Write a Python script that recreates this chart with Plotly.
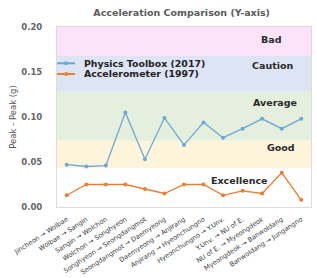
import plotly.graph_objects as go

categories = [
    "Jincheon → Wolbae", "Wolbae → Sangin", "Sangin → Wolchon", "Wolchon → Songhyeon",
    "Songhyeon → Seongdangmot", "Seongdangmot → Daemyeong", "Daemyeong → Anjirang",
    "Anjirang → Hyeonchungno", "Hyeonchungno → Y.Unv.", "Y.Unv. → NU of E.",
    "NU of E. → Myeongdeok", "Myeongdeok → Banwoldang", "Banwoldang → Jungangno",
]
physics_toolbox = [0.047, 0.045, 0.046, 0.105, 0.053, 0.099, 0.069, 0.094, 0.077, 0.087, 0.098, 0.087, 0.098]
accelerometer = [0.013, 0.025, 0.025, 0.025, 0.020, 0.015, 0.025, 0.025, 0.013, 0.018, 0.015, 0.038, 0.008]
series_names = ["Physics Toolbox (2017)", "Accelerometer (1997)"]
series_colors = ["#6fa8d6", "#ed7d31"]

band_names = ["Excellence", "Good", "Average", "Caution", "Bad"]
band_edges = [0.0, 0.043, 0.074, 0.128, 0.168, 0.20]
band_colors = ["#ffffff", "#fdf4dc", "#e4f0dd", "#dde4f3", "#fbe4f8"]
band_label_y = [0.029, 0.066, 0.116, 0.1567, 0.1856]
band_label_x = [0.72, 0.944, 0.951, 0.937, 0.89]

FONT = "DejaVu Sans"

fig = go.Figure()
for i in range(len(band_names)):
    fig.add_shape(type="rect", xref="paper", yref="y", x0=0, x1=1,
                  y0=band_edges[i], y1=band_edges[i + 1],
                  fillcolor=band_colors[i], line_width=0, layer="below")
    fig.add_annotation(xref="paper", yref="y", x=band_label_x[i], y=band_label_y[i],
                       text="<b>" + band_names[i] + "</b>", showarrow=False,
                       xanchor="right" if i != 0 else "center", yanchor="middle",
                       font=dict(family=FONT, size=9.5, color="#2a2a2a"))

for vals, name, col in zip([physics_toolbox, accelerometer], series_names, series_colors):
    fig.add_trace(go.Scatter(x=categories, y=vals, mode="lines+markers", name=name,
                             line=dict(color=col, width=1.3),
                             marker=dict(size=4, color=col), showlegend=False))

# legend drawn manually (compact rows like the reference)
legend_y = [0.1597, 0.1478]
for ly, name, col in zip(legend_y, series_names, series_colors):
    fig.add_shape(type="line", xref="paper", yref="y", x0=0.0, x1=0.071, y0=ly, y1=ly,
                  line=dict(color=col, width=2))
    fig.add_shape(type="circle", xref="paper", yref="y", x0=0.028, x1=0.044,
                  y0=ly - 0.0022, y1=ly + 0.0022, fillcolor=col, line_width=0)
    fig.add_annotation(xref="paper", yref="y", x=0.098, y=ly, text="<b>" + name + "</b>",
                       showarrow=False, xanchor="left", yanchor="middle",
                       font=dict(family=FONT, size=9.4, color="#222222"))

fig.update_layout(
    width=317, height=278,
    margin=dict(l=57, r=6, t=27, b=71),
    paper_bgcolor="white", plot_bgcolor="white",
    title=dict(text="<b>Acceleration Comparison (Y-axis)</b>", x=0.573, xanchor="center",
               y=0.953, yanchor="middle",
               font=dict(family=FONT, size=9.5, color="#5a5a5a")),
    showlegend=False,
    font=dict(family=FONT, color="#555555"),
)
fig.update_xaxes(range=[-0.5, 12.5], tickangle=-33, tickfont=dict(family=FONT, size=6.6, color="#3a3a3a"),
                 showgrid=False, showline=True, linecolor="#dddddd", mirror=True, ticks="",
                 ticklabelstandoff=5, automargin=False)
fig.update_yaxes(range=[0, 0.2], tickvals=[0, 0.05, 0.1, 0.15, 0.2],
                 ticktext=["<b>0.00</b>", "<b>0.05</b>", "<b>0.10</b>", "<b>0.15</b>", "<b>0.20</b>"],
                 tickfont=dict(family=FONT, size=8.5, color="#666666"), showgrid=False,
                 showline=True, linecolor="#dddddd", mirror=True, ticks="", ticklabelstandoff=12,
                 automargin=False,
                 title=dict(text="Peak - Peak (g)", font=dict(family=FONT, size=8.5, color="#555555"),
                            standoff=3))

fig.write_html("out.html")
